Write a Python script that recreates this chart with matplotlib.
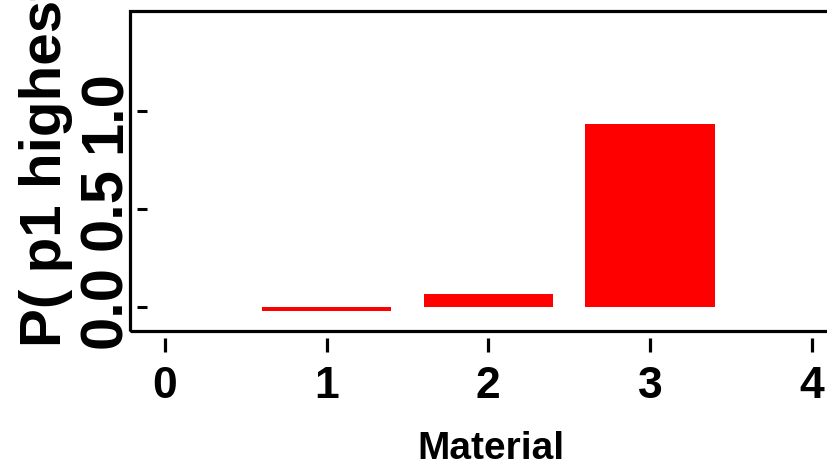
import matplotlib
matplotlib.use("Agg")
import matplotlib.pyplot as plt
from matplotlib.patches import Rectangle

# data
materials = [1, 2, 3]
p_highest = [-0.02, 0.065, 0.935]
x_ticks = [0, 1, 2, 3, 4]
y_ticks = [0.0, 0.5, 1.0]
y_ticklabels = ["0.0", "0.5", "1.0"]

plt.rcParams['font.family'] = ['Liberation Sans', 'DejaVu Sans']
plt.rcParams['font.weight'] = 'bold'

fig = plt.figure(figsize=(8.28, 4.73), dpi=100)
ax = fig.add_axes([130 / 828, 142 / 473, 722 / 828, 320 / 473])

ax.bar(materials, p_highest, width=0.8, color='#ff0000', linewidth=0)

ax.set_xlim(-0.216, 4.25)
ax.set_ylim(-0.124, 1.5125)

# R-style: box around plot, ticks detached from it
for s in ['top', 'right']:
    ax.spines[s].set_visible(False)
ax.spines['bottom'].set_position(('outward', 5))
ax.spines['bottom'].set_visible(False)
ax.spines['left'].set_position(('outward', -5))
ax.spines['left'].set_visible(False)
ax.add_patch(Rectangle((0, 0), 1, 1, transform=ax.transAxes, fill=False,
                       edgecolor='black', linewidth=2.3, clip_on=False, zorder=5))

ax.set_xticks(x_ticks)
ax.set_xticklabels([str(t) for t in x_ticks], fontsize=32, fontweight='bold')
ax.tick_params(axis='x', direction='out', length=10, width=2.3, pad=10)

ax.set_yticks(y_ticks)
ax.set_yticklabels(y_ticklabels, fontsize=43, fontweight='bold',
                   rotation=90, va='center')
ax.tick_params(axis='y', direction='in', length=7.2, width=2.2, pad=3)

ax.set_xlabel('Material', fontsize=28, fontweight='bold')
ax.xaxis.set_label_coords(0.5, -0.3125)
# long label runs off the top edge, as in the original
ax.set_ylabel('P( p1 highest )', fontsize=42, fontweight='bold')
ax.yaxis.set_label_coords(-0.079, 0.58)

fig.savefig('out.png', dpi=100)
